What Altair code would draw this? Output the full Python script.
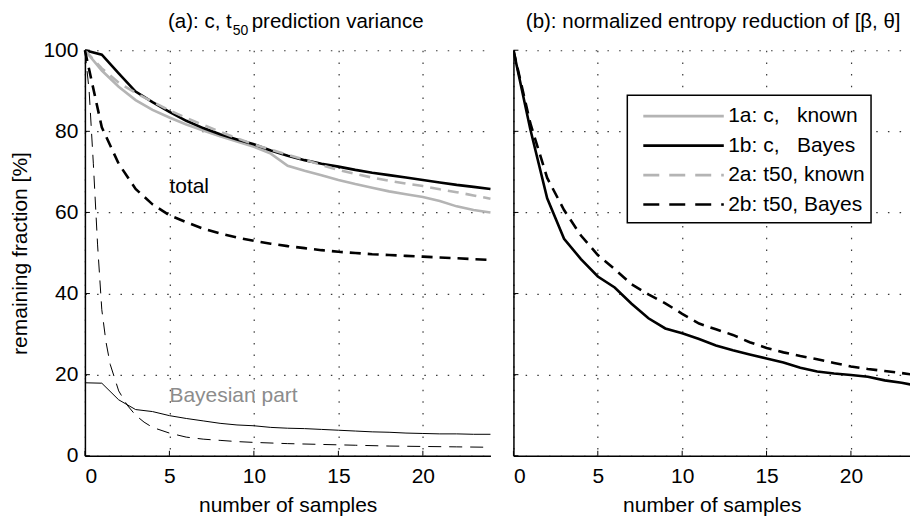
import altair as alt
import pandas as pd

FONT = "Liberation Sans"
GRAY = "#b4b4b4"

# ---------------- data: panel (a) ----------------
x_int = list(range(25))
a_c_known = [100, 95.0, 91.0, 87.7, 85.3, 83.4, 81.7, 80.2, 78.8, 77.5, 76.2, 74.5, 71.5,
             70.3, 69.2, 68.0, 67.0, 66.1, 65.2, 64.5, 63.8, 62.8, 61.5, 60.6, 60.0]
a_c_bayes = [100, 98.9, 94.3, 89.8, 87.2, 84.8, 82.6, 80.8, 79.3, 78.0, 76.8, 75.3, 74.0,
             72.9, 72.0, 71.3, 70.5, 69.8, 69.2, 68.6, 68.0, 67.4, 66.8, 66.3, 65.8]
a_t50_known = [100, 95.5, 92.0, 89.5, 87.3, 85.2, 83.3, 81.6, 79.9, 78.3, 76.8, 75.5, 74.2,
               73.0, 71.7, 70.5, 69.5, 68.6, 67.8, 67.1, 66.5, 65.7, 65.0, 64.2, 63.4]
a_t50_bayes = [100, 81.0, 72.0, 65.8, 62.0, 59.3, 57.6, 56.0, 54.8, 53.8, 53.0, 52.3, 51.7,
               51.2, 50.7, 50.3, 50.0, 49.7, 49.5, 49.3, 49.1, 48.9, 48.7, 48.5, 48.3]
a_c_part = [18.0, 17.9, 13.8, 11.4, 10.9, 9.9, 9.2, 8.6, 8.0, 7.6, 7.4, 7.0, 6.8,
            6.7, 6.5, 6.3, 6.1, 5.9, 5.8, 5.6, 5.5, 5.4, 5.4, 5.3, 5.3]
x_t50_part = [0, 0.25, 0.5, 0.75, 1, 1.25, 1.5, 2, 2.5, 3, 3.5, 4, 5, 6, 7, 8, 9, 10,
              12, 14, 16, 18, 20, 22, 24]
a_t50_part = [100, 90, 72, 52, 36, 28, 22.5, 16, 12.5, 10, 8.3, 7.0, 5.6, 4.6, 4.1, 3.8,
              3.5, 3.3, 3.0, 2.8, 2.6, 2.4, 2.3, 2.2, 2.1]

# ---------------- data: panel (b) ----------------
b_c_bayes = [100, 80.5, 63.5, 53.5, 48.5, 44.2, 41.5, 37.5, 33.9, 31.4, 30.2, 28.8, 27.2,
             26.0, 25.0, 24.0, 23.0, 21.7, 20.8, 20.3, 19.9, 19.5, 18.6, 18.0, 17.2]
b_t50_bayes = [100, 82.0, 68.5, 60.6, 54.3, 49.5, 46.0, 42.3, 39.8, 37.6, 35.0, 32.6, 31.2,
               29.8, 28.0, 26.6, 25.5, 24.6, 23.8, 22.9, 22.0, 21.4, 20.9, 20.4, 19.8]

x_ticks = [0, 5, 10, 15, 20]
y_ticks = [0, 20, 40, 60, 80, 100]
legend_labels = ["1a: c,\u00a0\u00a0\u00a0known", "1b: c,\u00a0\u00a0\u00a0Bayes",
                 "2a: t50, known", "2b: t50, Bayes"]
legend_colors = [GRAY, "black", GRAY, "black"]
legend_dashed = [False, False, True, True]

W_A, W_B, H = 406, 397, 406
FS = 21


def xenc(dmax):
    return alt.X("x:Q", scale=alt.Scale(domain=[0, dmax], nice=False, zero=False),
                 axis=alt.Axis(values=x_ticks, title="number of samples"))


def yenc(show_labels):
    if show_labels:
        ax = alt.Axis(values=y_ticks, title="remaining fraction [%]")
    else:
        ax = alt.Axis(values=y_ticks, labels=False, title="")
    return alt.Y("y:Q", scale=alt.Scale(domain=[0, 100], nice=False), axis=ax)


def line(xs, ys, color, width, dash, X, Y, clip=False):
    kw = dict(color=color, strokeWidth=width, clip=clip)
    if dash:
        kw["strokeDash"] = dash
    return alt.Chart(pd.DataFrame({"x": xs, "y": ys})).mark_line(**kw).encode(x=X, y=Y)


def ticks(X, Y):
    xt = alt.Chart(pd.DataFrame({"x": x_ticks})).mark_rule(color="black", strokeWidth=1).encode(
        x=X, y=alt.value(H), y2=alt.value(H - 5))
    yt = alt.Chart(pd.DataFrame({"y": y_ticks})).mark_rule(color="black", strokeWidth=1).encode(
        y=Y, x=alt.value(0), x2=alt.value(5))
    return [xt, yt]


def txt(text, x, y, size=FS, align="left", color="black", baseline="alphabetic"):
    return alt.Chart(pd.DataFrame({"t": [text]})).mark_text(
        align=align, baseline=baseline, fontSize=size, font=FONT, color=color
    ).encode(text="t:N", x=alt.value(x), y=alt.value(y))


# ---------------- panel (a) ----------------
XA, YA = xenc(24), yenc(True)
DASH = [11, 7]
left_layers = [
    line(x_int, a_c_known, GRAY, 2.6, None, XA, YA),
    line(x_int, a_c_bayes, "black", 2.6, None, XA, YA),
    line(x_int, a_t50_known, GRAY, 2.6, DASH, XA, YA),
    line(x_int, a_t50_bayes, "black", 2.6, DASH, XA, YA),
    line(x_int, a_c_part, "black", 1, None, XA, YA),
    line(x_t50_part, a_t50_part, "black", 1, [13, 8], XA, YA),
    alt.Chart(pd.DataFrame({"x": [5.0], "y": [66.3], "t": ["total"]})).mark_text(
        align="left", baseline="middle", fontSize=FS, font=FONT, color="black"
    ).encode(x=XA, y=YA, text="t:N"),
    alt.Chart(pd.DataFrame({"x": [5.0], "y": [14.8], "t": ["Bayesian part"]})).mark_text(
        align="left", baseline="middle", fontSize=FS, font=FONT, color="#8c8c8c"
    ).encode(x=XA, y=YA, text="t:N"),
    txt("(a): c, t", 147, -22, size=20.5, align="right"),
    txt("50", 148, -15, size=14),
    txt("prediction variance", 167, -22, size=20.5),
] + ticks(XA, YA)
left = alt.layer(*left_layers).properties(width=W_A, height=H)

# ---------------- panel (b) ----------------
XB, YB = xenc(23.5), yenc(False)
right_layers = [
    line(x_int, b_c_bayes, "black", 2.6, None, XB, YB, clip=True),
    line(x_int, b_t50_bayes, "black", 2.6, DASH, XB, YB, clip=True),
    txt("(b): normalized entropy reduction of [\u03b2, \u03b8]", 200, -22, size=20.5, align="center"),
    alt.Chart(pd.DataFrame({"a": [0]})).mark_rect(
        fill="white", stroke="black", strokeWidth=1.5
    ).encode(x=alt.value(114), x2=alt.value(358), y=alt.value(45), y2=alt.value(172.7)),
] + ticks(XB, YB)
row_y = [66, 95.5, 125, 154.5]
for lab, col, dsh, ry in zip(legend_labels, legend_colors, legend_dashed, row_y):
    kw = dict(color=col, strokeWidth=2.6)
    if dsh:
        kw["strokeDash"] = [16, 10]
    right_layers.append(
        alt.Chart(pd.DataFrame({"a": [0]})).mark_rule(**kw).encode(
            x=alt.value(130), x2=alt.value(210.6), y=alt.value(ry)))
    right_layers.append(txt(lab, 215, ry, baseline="middle"))
right = alt.layer(*right_layers).properties(width=W_B, height=H)

chart = alt.hconcat(left, right, spacing=16).properties(
    padding={"left": 9, "top": 12, "right": 0, "bottom": 0}
).configure_view(stroke=None).configure_axis(
    domainColor="black", domainWidth=1.5, ticks=False,
    grid=True, gridColor="#222222", gridDash=[1.5, 10.2], gridWidth=1.2, gridOpacity=0.9,
    labelFont=FONT, labelFontSize=FS, labelColor="black",
    titleFont=FONT, titleFontSize=FS, titleFontWeight="normal", titleColor="black",
).configure_axisX(labelPadding=10, titlePadding=8).configure_axisY(
    labelPadding=7, titlePadding=12)

chart.save("out.html", embed_options={"renderer": "svg", "actions": False})
